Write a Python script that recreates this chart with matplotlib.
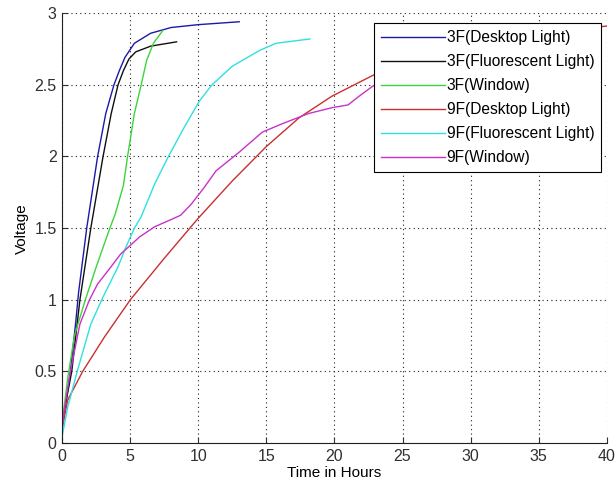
import matplotlib
matplotlib.use('Agg')
import matplotlib.pyplot as plt

plt.rcParams['font.family'] = ['Liberation Sans', 'DejaVu Sans']

# values (hours, volts)
t_3f_desk = [0, 0.3, 0.6, 1.0, 1.2, 1.8, 2.6, 3.2, 3.8, 4.2, 4.6, 5.3, 6.5, 8.0, 10.0, 13.0]
v_3f_desk = [0.15, 0.3, 0.5, 0.85, 1.05, 1.5, 2.0, 2.3, 2.5, 2.6, 2.69, 2.79, 2.86, 2.9, 2.92, 2.94]

t_3f_fluo = [0, 0.3, 0.7, 1.3, 2.1, 3.0, 3.6, 4.1, 4.5, 4.9, 5.4, 6.5, 8.4]
v_3f_fluo = [0.15, 0.3, 0.5, 1.0, 1.5, 2.0, 2.3, 2.5, 2.6, 2.68, 2.73, 2.77, 2.80]

t_3f_win = [0, 0.4, 0.9, 1.7, 2.5, 3.5, 3.9, 4.5, 4.8, 5.3, 5.8, 6.2, 6.7, 7.4]
v_3f_win = [0.15, 0.45, 0.75, 1.0, 1.23, 1.5, 1.6, 1.8, 2.0, 2.3, 2.5, 2.67, 2.79, 2.88]

t_9f_desk = [0, 0.4, 1.5, 3.1, 5.0, 7.5, 10.0, 12.5, 15.0, 17.4, 19.8, 22.9, 27, 31, 35, 40]
v_9f_desk = [0.1, 0.3, 0.5, 0.74, 1.0, 1.29, 1.57, 1.83, 2.07, 2.27, 2.42, 2.57, 2.70, 2.79, 2.86, 2.91]

t_9f_fluo = [0, 0.4, 1.1, 2.1, 3.0, 4.1, 4.6, 5.3, 5.8, 6.8, 7.8, 9.0, 10.1, 11.0, 12.5, 14.5, 15.7, 18.2]
v_9f_fluo = [0.05, 0.25, 0.5, 0.83, 1.02, 1.23, 1.35, 1.5, 1.58, 1.81, 2.0, 2.21, 2.39, 2.5, 2.63, 2.74, 2.79, 2.82]

t_9f_win = [0, 0.1, 0.6, 1.3, 2.0, 2.6, 3.5, 4.3, 5.7, 6.8, 8.0, 8.7, 9.5, 10.4, 11.3, 13.0, 14.7, 16.2,
            18.1, 19.8, 21.0, 21.8, 22.8, 24.0]
v_9f_win = [0.1, 0.2, 0.5, 0.83, 1.0, 1.11, 1.22, 1.32, 1.44, 1.51, 1.56, 1.59, 1.67, 1.78, 1.90, 2.03,
            2.17, 2.23, 2.30, 2.34, 2.36, 2.42, 2.49, 2.55]

fig = plt.figure(figsize=(6.16, 4.88), dpi=100)
ax = fig.add_axes([0.101, 0.092, 0.884, 0.881])

ax.plot(t_3f_desk, v_3f_desk, color='#1a1aa8', lw=1.0, label='3F(Desktop Light)')
ax.plot(t_3f_fluo, v_3f_fluo, color='#101010', lw=1.0, label='3F(Fluorescent Light)')
ax.plot(t_3f_win, v_3f_win, color='#3cd43c', lw=1.0, label='3F(Window)')
ax.plot(t_9f_desk, v_9f_desk, color='#c83030', lw=1.0, label='9F(Desktop Light)')
ax.plot(t_9f_fluo, v_9f_fluo, color='#30e0e0', lw=1.0, label='9F(Fluorescent Light)')
ax.plot(t_9f_win, v_9f_win, color='#c832c8', lw=1.0, label='9F(Window)')

ax.set_xlim(0, 40)
ax.set_ylim(0, 3)
ax.set_xticks(range(0, 41, 5))
ax.set_yticks([0, 0.5, 1, 1.5, 2, 2.5, 3])
ax.set_yticklabels(['0', '0.5', '1', '1.5', '2', '2.5', '3'])
ax.grid(True, color='#202020', linestyle=(0, (1, 3)), linewidth=0.8)
for s in ['top', 'right']:
    ax.spines[s].set_visible(False)
for s in ['left', 'bottom']:
    ax.spines[s].set_color('#202020')
ax.tick_params(direction='in', length=4, labelsize=11.5, colors='#303030', pad=4)

ax.set_xlabel('Time in Hours', fontsize=11, labelpad=2)
ax.set_ylabel('Voltage', fontsize=11, labelpad=4)

leg = ax.legend(loc='upper right', bbox_to_anchor=(0.99, 0.977), fontsize=11.2, fancybox=False,
                framealpha=1, edgecolor='black', handlelength=4.1, handletextpad=0.1,
                labelspacing=0.58, borderpad=0.45, borderaxespad=0)
leg.get_frame().set_linewidth(0.8)

plt.savefig('out.png', dpi=100)
